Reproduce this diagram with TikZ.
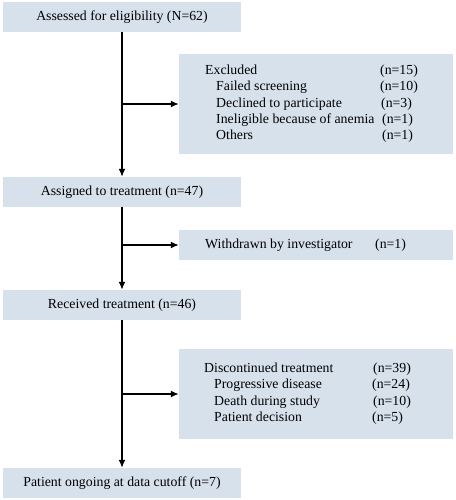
\documentclass[tikz,border=0pt]{standalone}
\usepackage{fontspec}
\setmainfont{Liberation Serif}
\usetikzlibrary{arrows.meta}
\definecolor{boxfill}{RGB}{214,225,236}
\tikzset{
  x=1pt, y=-1pt,
  mainbox/.style={fill=boxfill, draw=none, minimum width=238pt, minimum height=30pt, inner sep=0pt, font=\fontsize{13.8}{16}\selectfont},
  sidebox/.style={fill=boxfill, draw=none, minimum width=274pt, inner sep=0pt},
  txt/.style={anchor=west, inner sep=0pt, text height=9.5pt, text depth=3pt, font=\fontsize{13.8}{16}\selectfont},
  flow/.style={line width=1.5pt, -{Latex[length=8pt,width=7pt]}},
  branch/.style={line width=1.5pt, -{Latex[length=8pt,width=7pt]}}
}
\begin{document}
\begin{tikzpicture}
\useasboundingbox (0,0) rectangle (455,500);
% main boxes
\node[mainbox] (b1) at (122,17) {Assessed for eligibility (N=62)};
\node[mainbox] (b2) at (122,192) {Assigned to treatment (n=47)};
\node[mainbox] (b3) at (122,305) {Received treatment (n=46)};
\node[mainbox] (b4) at (122,483) {Patient ongoing at data cutoff (n=7)};
% side boxes
\node[sidebox, minimum height=100pt] (ex) at (316,104) {};
\node[sidebox, minimum height=30pt] (wd) at (316,245) {};
\node[sidebox, minimum height=90pt] (dc) at (316,394) {};
% excluded texts
\node[txt] (ex1) at (205,71.3) {Excluded};
\node[txt] (ex1n) at (380,71.3) {(n=15)};
\node[txt] (ex2) at (216,87.7) {Failed screening};
\node[txt] (ex2n) at (380,87.7) {(n=10)};
\node[txt] (ex3) at (216,104) {Declined to participate};
\node[txt] (ex3n) at (381,104) {(n=3)};
\node[txt] (ex4) at (216,120) {Ineligible because of anemia};
\node[txt] (ex4n) at (382,120) {(n=1)};
\node[txt] (ex5) at (216,136.7) {Others};
\node[txt] (ex5n) at (382,136.7) {(n=1)};
% withdrawn
\node[txt] (wd1) at (205,245) {Withdrawn by investigator};
\node[txt] (wd1n) at (375,245) {(n=1)};
% discontinued
\node[txt] (dc1) at (204,369.3) {Discontinued treatment};
\node[txt] (dc1n) at (373,369.3) {(n=39)};
\node[txt] (dc2) at (214,385) {Progressive disease};
\node[txt] (dc2n) at (372,385) {(n=24)};
\node[txt] (dc3) at (214,402.3) {Death during study};
\node[txt] (dc3n) at (373,402.3) {(n=10)};
\node[txt] (dc4) at (214,418.7) {Patient decision};
\node[txt] (dc4n) at (372,418.7) {(n=5)};
% connectors
\draw[flow] (b1.south) -- (b2.north);
\draw[flow] (b2.south) -- (b3.north);
\draw[flow] (b3.south) -- (b4.north);
\draw[branch] (b1.south |- ex.west) -- (ex.west);
\draw[branch] (b2.south |- wd.west) -- (wd.west);
\draw[branch] (b3.south |- dc.west) -- (dc.west);
\end{tikzpicture}
\end{document}
